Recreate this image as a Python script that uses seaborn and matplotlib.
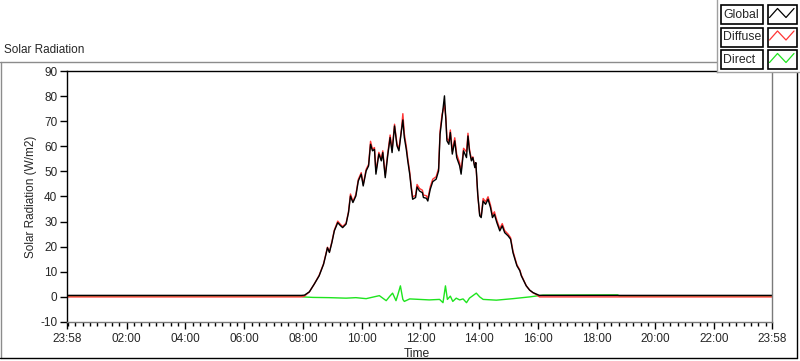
import matplotlib
matplotlib.use("Agg")
import matplotlib.pyplot as plt
from matplotlib.patches import Rectangle
from matplotlib.lines import Line2D
import numpy as np
import pandas as pd
import seaborn as sns

# ---------------- data ----------------
series_names = ["Global", "Diffuse", "Direct"]

global_time = [
    "00:00", "07:57", "08:03", "08:13", "08:23", "08:33", "08:42", "08:47", "08:50", "08:54",
    "08:59", "09:04", "09:11", "09:16", "09:21", "09:28", "09:33", "09:37", "09:42", "09:48",
    "09:53", "09:59", "10:03", "10:09", "10:14", "10:18", "10:22", "10:26", "10:29", "10:35",
    "10:40", "10:43", "10:48", "10:53", "10:58", "11:02", "11:07", "11:12", "11:16", "11:21",
    "11:24", "11:27", "11:31", "11:34", "11:38", "11:41", "11:44", "11:50", "11:53", "11:58",
    "12:04", "12:06", "12:12", "12:15", "12:20", "12:25", "12:32", "12:37", "12:40", "12:44",
    "12:49", "12:52", "12:54", "12:58", "13:01", "13:05", "13:10", "13:14", "13:20", "13:23",
    "13:28", "13:34", "13:37", "13:40", "13:44", "13:47", "13:51", "13:53", "13:55", "13:57",
    "14:01", "14:04", "14:08", "14:13", "14:18", "14:23", "14:27", "14:31", "14:36", "14:42",
    "14:47", "14:52", "14:59", "15:04", "15:09", "15:14", "15:17", "15:23", "15:26", "15:31",
    "15:36", "15:43", "15:50", "15:57", "16:03", "23:58",
]
global_value = [
    0.6, 0.6, 0.7, 2.0, 5.1, 8.4, 13.0, 17.0, 19.6, 17.7,
    21.6, 26.3, 29.6, 28.5, 27.6, 29.0, 33.6, 40.2, 37.6, 40.2,
    46.2, 48.9, 44.2, 50.2, 52.2, 60.8, 58.2, 58.8, 48.9, 56.9,
    54.2, 57.5, 47.5, 56.2, 63.5, 57.5, 68.1, 60.2, 58.2, 66.1,
    70.5, 63.5, 58.8, 54.2, 48.9, 43.5, 38.9, 39.6, 43.8, 42.2,
    41.5, 39.6, 39.3, 38.2, 42.9, 45.9, 46.9, 50.2, 64.8, 71.4,
    80.1, 70.0, 62.2, 60.8, 65.5, 56.9, 62.2, 55.5, 52.2, 48.9,
    58.2, 55.5, 64.1, 58.2, 54.2, 55.5, 51.5, 53.5, 47.5, 40.9,
    32.3, 31.6, 38.2, 36.9, 38.9, 35.6, 31.6, 32.9, 29.6, 26.3,
    28.3, 25.6, 24.3, 23.0, 17.6, 14.3, 12.4, 10.4, 8.4, 6.4,
    4.4, 2.7, 1.7, 1.1, 0.6, 0.6,
]
diffuse_value = [
    0.0, 0.0, 0.3, 2.0, 5.1, 8.6, 13.2, 17.3, 19.8, 18.0,
    22.0, 26.6, 30.2, 29.0, 28.0, 29.4, 34.0, 41.0, 38.0, 40.8,
    46.8, 49.5, 44.8, 50.8, 52.8, 62.0, 58.8, 59.5, 50.0, 57.6,
    55.0, 58.2, 48.5, 57.0, 64.5, 58.5, 68.8, 61.0, 59.0, 66.5,
    73.0, 65.0, 60.0, 55.2, 49.8, 44.4, 39.8, 40.5, 44.8, 43.2,
    42.5, 40.6, 40.3, 39.2, 43.9, 46.9, 47.9, 51.2, 66.0, 72.6,
    76.5, 71.0, 63.2, 62.0, 66.5, 58.0, 63.4, 56.8, 53.4, 50.0,
    59.2, 57.8, 65.2, 59.0, 54.8, 55.8, 51.8, 53.4, 47.0, 40.4,
    32.6, 32.2, 39.2, 37.9, 39.9, 36.6, 32.6, 33.9, 30.5, 27.2,
    29.2, 26.4, 25.0, 23.6, 18.2, 14.8, 12.8, 10.7, 8.7, 6.6,
    4.5, 2.7, 1.6, 0.9, 0.0, 0.0,
]

direct_time = [
    "00:00", "07:57", "08:00", "08:20", "08:54", "09:28", "09:48", "10:09", "10:36", "10:43",
    "10:50", "10:57", "11:03", "11:10", "11:14", "11:19", "11:24", "11:27", "11:38", "11:58",
    "12:18", "12:39", "12:46", "12:51", "12:55", "13:01", "13:06", "13:13", "13:20", "13:27",
    "13:34", "13:40", "13:47", "13:54", "14:01", "14:08", "14:35", "15:09", "15:43", "16:10",
    "18:43", "18:46", "23:58",
]
direct_value = [
    0.3, 0.3, 0.0, -0.2, -0.3, -0.5, -0.3, -0.7, 0.5, -0.5,
    -1.5, 0.2, 1.5, -1.5, 1.0, 4.4, -1.0, -1.8, -0.8, -1.0,
    -1.2, -1.0, -2.3, 4.4, -1.0, 0.3, -1.8, -0.5, -1.2, -0.8,
    -2.3, -0.5, 0.5, 1.5, 0.0, -1.0, -1.3, -0.7, 0.0, 0.7,
    0.8, 0.3, 0.3,
]

x_tick_labels = ["23:58", "02:00", "04:00", "06:00", "08:00", "10:00", "12:00",
                 "14:00", "16:00", "18:00", "20:00", "22:00", "23:58"]
y_ticks = [-10, 0, 10, 20, 30, 40, 50, 60, 70, 80, 90]

title_text = "Solar Radiation"
y_label = "Solar Radiation (W/m2)"
x_label = "Time"


def to_minutes(s):
    h, m = s.split(":")
    return int(h) * 60 + int(m)


df = pd.concat([
    pd.DataFrame({"minute": [to_minutes(t) for t in direct_time], "value": direct_value, "series": "Direct"}),
    pd.DataFrame({"minute": [to_minutes(t) for t in global_time], "value": diffuse_value, "series": "Diffuse"}),
    pd.DataFrame({"minute": [to_minutes(t) for t in global_time], "value": global_value, "series": "Global"}),
], ignore_index=True)

# tick positions from labels: first label is the previous day's 23:58
x_ticks = [to_minutes(t) for t in x_tick_labels]
x_ticks[0] -= 24 * 60

# ---------------- style ----------------
sns.set_style("white")
plt.rcParams["font.family"] = ["Liberation Sans", "DejaVu Sans"]
FS = 8.5
palette = {"Global": "#000000", "Diffuse": "#ff3535", "Direct": "#1ee41e"}

fig = plt.figure(figsize=(8.0, 3.61), dpi=100)
W, H = 800, 361


def fx(px):
    return px / W


def fy(py):
    return 1 - py / H


ax = fig.add_axes([fx(67), fy(322), (772 - 67) / W, (322 - 71) / H])
ax.set_facecolor("white")

sns.lineplot(data=df, x="minute", y="value", hue="series",
             hue_order=["Direct", "Diffuse", "Global"], palette=palette,
             estimator=None, sort=False, legend=False, linewidth=1.0, ax=ax)

ax.set_xlim(x_ticks[0], x_ticks[-1])
ax.set_ylim(y_ticks[0], y_ticks[-1])
ax.set_xticks(x_ticks)
ax.set_xticklabels(x_tick_labels, fontsize=FS)
ax.set_xticks(np.arange(0, 24 * 60, 15), minor=True)
ax.set_yticks(y_ticks)
ax.set_yticklabels([str(v) for v in y_ticks], fontsize=FS)
ax.tick_params(axis="x", which="major", direction="out", length=5, width=1, color="black", pad=3, bottom=True)
ax.tick_params(axis="x", which="minor", direction="out", length=3, width=1, color="black", bottom=True)
ax.tick_params(axis="y", which="major", direction="out", length=5, width=1, color="black", pad=2, left=True)
ax.grid(False)

for side in ["left", "top"]:
    ax.spines[side].set_color("black")
    ax.spines[side].set_linewidth(1.0)
for side in ["right", "bottom"]:
    ax.spines[side].set_color("#7a7a7a")
    ax.spines[side].set_linewidth(1.0)

ax.set_ylabel(y_label, fontsize=FS)
ax.yaxis.set_label_coords(-0.043, 0.5)
ax.set_xlabel(x_label, fontsize=FS + 0.2)
ax.xaxis.set_label_coords(0.496, -0.105)

# panel caption and frame
fig.text(fx(4), fy(50), title_text, fontsize=FS, ha="left", va="center")
fig.add_artist(Line2D([fx(0), fx(717)], [fy(62), fy(62)], color="#8c8c8c", lw=1))
fig.add_artist(Line2D([fx(0.5), fx(0.5)], [fy(62), fy(358)], color="#8c8c8c", lw=1))
fig.add_artist(Line2D([fx(0), fx(797)], [fy(358), fy(358)], color="black", lw=1))
fig.add_artist(Line2D([fx(797), fx(797)], [fy(72), fy(358)], color="black", lw=1))

# legend panel (LabVIEW-style plot legend)
lax = fig.add_axes([fx(717), fy(72), (800 - 717) / W, 72 / H], zorder=10)
lax.set_xlim(0, 83)
lax.set_ylim(72, 0)
lax.set_facecolor("white")
lax.set_xticks([])
lax.set_yticks([])
for side in ["top", "right"]:
    lax.spines[side].set_visible(False)
for side in ["left", "bottom"]:
    lax.spines[side].set_color("#a0a0a0")
    lax.spines[side].set_linewidth(1.0)

row_tops = [5, 27.5, 50]
for name, top in zip(series_names, row_tops):
    lax.add_patch(Rectangle((4, top), 42, 19, fill=False, edgecolor="black", lw=1.2))
    lax.text(6, top + 9.8, name, fontsize=FS + 0.3, ha="left", va="center")
    lax.add_patch(Rectangle((51, top), 29, 19, fill=False, edgecolor="black", lw=1.2))
    zx = [52.5, 60.5, 69, 77]
    zy = [top + 12.5, top + 3.5, top + 12.5, top + 3.5]
    lax.plot(zx, zy, color=palette[name], lw=0.9)

fig.savefig("out.png", dpi=100, facecolor="white")
